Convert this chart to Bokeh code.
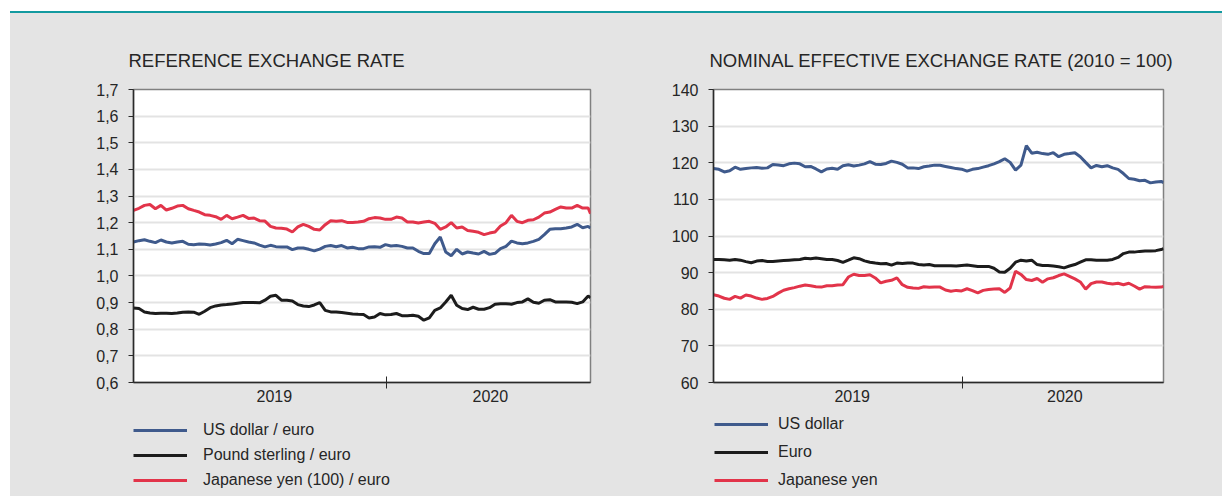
import pandas as pd
from bokeh.plotting import figure
from bokeh.models import (Range1d, FixedTicker, DatetimeTickFormatter, CustomJSTickFormatter,
                          Legend, LegendItem, Div)
from bokeh.layouts import row, column
from bokeh.embed import file_html
from bokeh.resources import INLINE

# ---------------- data ----------------
start_date = "2019-02-12"
end_date = "2020-09-18"
dates = list(pd.date_range(start_date, periods=84, freq="7D")) + [pd.Timestamp(end_date)]

# Reference exchange rates
usd_euro = [1.1275, 1.1325, 1.136, 1.13, 1.125, 1.135, 1.1275, 1.124, 1.1275, 1.13,
            1.119, 1.1175, 1.12, 1.119, 1.116, 1.12, 1.125, 1.134, 1.121, 1.1375,
            1.1325, 1.1275, 1.124, 1.116, 1.109, 1.115, 1.11, 1.109, 1.109, 1.099,
            1.105, 1.105, 1.10, 1.094, 1.101, 1.111, 1.114, 1.11, 1.114, 1.105,
            1.1075, 1.1025, 1.1025, 1.109, 1.11, 1.1075, 1.1175, 1.1125, 1.114, 1.111,
            1.105, 1.105, 1.0925, 1.084, 1.084, 1.121, 1.146, 1.09, 1.076, 1.10,
            1.0825, 1.09, 1.086, 1.0825, 1.0925, 1.081, 1.085, 1.1025, 1.111, 1.131,
            1.124, 1.121, 1.124, 1.13, 1.1375, 1.155, 1.175, 1.1775, 1.1775, 1.18,
            1.184, 1.194, 1.181, 1.186, 1.18]
gbp_euro = [0.88, 0.8775, 0.865, 0.861, 0.859, 0.86, 0.86, 0.859, 0.861, 0.864,
            0.865, 0.864, 0.856, 0.8675, 0.881, 0.8875, 0.891, 0.8925, 0.895, 0.8975,
            0.90, 0.90, 0.90, 0.899, 0.909, 0.924, 0.9275, 0.909, 0.909, 0.906,
            0.8925, 0.8875, 0.885, 0.891, 0.90, 0.871, 0.865, 0.865, 0.8625, 0.86,
            0.8575, 0.856, 0.855, 0.8425, 0.846, 0.859, 0.854, 0.855, 0.859, 0.851,
            0.851, 0.8525, 0.849, 0.834, 0.8425, 0.871, 0.88, 0.9025, 0.9275, 0.89,
            0.8775, 0.874, 0.8825, 0.875, 0.875, 0.881, 0.894, 0.896, 0.896, 0.894,
            0.90, 0.9025, 0.914, 0.901, 0.8975, 0.909, 0.911, 0.9025, 0.9025, 0.9025,
            0.901, 0.896, 0.9025, 0.925, 0.9175]
jpy100_euro = [1.246, 1.254, 1.265, 1.268, 1.2525, 1.265, 1.2475, 1.254, 1.2625, 1.265,
               1.2525, 1.246, 1.24, 1.23, 1.2275, 1.2225, 1.2125, 1.2275, 1.215, 1.221,
               1.2275, 1.216, 1.2175, 1.2075, 1.206, 1.186, 1.18, 1.179, 1.176, 1.165,
               1.184, 1.194, 1.186, 1.175, 1.1725, 1.1925, 1.2075, 1.205, 1.2075, 1.201,
               1.201, 1.2025, 1.205, 1.215, 1.219, 1.2175, 1.2125, 1.2125, 1.221, 1.2175,
               1.2025, 1.2025, 1.199, 1.2025, 1.205, 1.1975, 1.175, 1.184, 1.20, 1.18,
               1.184, 1.171, 1.1675, 1.164, 1.155, 1.161, 1.165, 1.1875, 1.20, 1.2275,
               1.205, 1.20, 1.209, 1.211, 1.221, 1.236, 1.24, 1.25, 1.259, 1.255,
               1.255, 1.265, 1.255, 1.255, 1.234]

# Nominal effective exchange rates (2010 = 100)
neer_usd = [118.4, 118.2, 117.5, 117.8, 118.8, 118.2, 118.4, 118.6, 118.7, 118.5,
            118.6, 119.5, 119.4, 119.2, 119.7, 119.9, 119.7, 118.9, 119.0, 118.3,
            117.5, 118.3, 118.5, 118.25, 119.2, 119.45, 119.1, 119.35, 119.7, 120.3,
            119.6, 119.5, 119.8, 120.45, 120.1, 119.6, 118.6, 118.6, 118.4, 118.9,
            119.1, 119.35, 119.3, 119.0, 118.7, 118.4, 118.25, 117.7, 118.2, 118.4,
            118.8, 119.2, 119.7, 120.3, 121.1, 120.1, 118.0, 119.35, 124.7, 122.6,
            122.85, 122.5, 122.3, 122.75, 121.65, 122.3, 122.5, 122.75, 121.65, 120.1,
            118.6, 119.25, 118.9, 119.2, 118.6, 118.2, 117.05, 115.7, 115.5, 115.1,
            115.2, 114.5, 114.75, 114.9, 114.6]
neer_eur = [93.6, 93.6, 93.5, 93.4, 93.6, 93.4, 93.0, 92.7, 93.15, 93.3,
            93.05, 93.05, 93.2, 93.3, 93.4, 93.5, 93.6, 93.9, 93.8, 94.0,
            93.8, 93.6, 93.6, 93.3, 92.8, 93.4, 94.05, 93.8, 93.2, 92.85,
            92.6, 92.4, 92.5, 92.05, 92.6, 92.5, 92.6, 92.6, 92.2, 92.05,
            92.2, 91.9, 91.9, 91.9, 91.9, 91.8, 91.95, 92.05, 91.9, 91.7,
            91.7, 91.7, 91.2, 90.2, 90.1, 91.2, 92.85, 93.4, 93.15, 93.4,
            92.2, 91.95, 91.95, 91.8, 91.6, 91.3, 91.8, 92.2, 92.85, 93.5,
            93.5, 93.4, 93.4, 93.4, 93.6, 94.15, 95.2, 95.6, 95.6, 95.8,
            95.9, 95.9, 96.0, 96.3, 96.55]
neer_jpy = [83.95, 83.6, 83.0, 82.7, 83.5, 83.05, 83.9, 83.6, 83.05, 82.7,
            82.95, 83.5, 84.4, 85.2, 85.6, 85.9, 86.3, 86.6, 86.4, 86.15,
            86.05, 86.4, 86.4, 86.6, 86.7, 88.8, 89.55, 89.2, 89.2, 89.4,
            88.55, 87.2, 87.65, 87.9, 88.55, 86.7, 86.0, 85.8, 85.7, 86.15,
            86.0, 86.05, 86.05, 85.25, 84.9, 85.15, 85.0, 85.6, 85.1, 84.5,
            85.15, 85.4, 85.5, 85.6, 84.6, 85.8, 90.4, 89.5, 88.1, 87.85,
            88.4, 87.35, 88.3, 88.6, 89.2, 89.65, 89.0, 88.3, 87.45, 85.5,
            87.0, 87.45, 87.45, 87.1, 86.9, 87.1, 86.7, 87.1, 86.35, 85.5,
            86.15, 86.05, 86.0, 86.05, 86.25]

left_title = "REFERENCE EXCHANGE RATE"
right_title = "NOMINAL EFFECTIVE EXCHANGE RATE (2010 = 100)"
left_labels = ["US dollar / euro", "Pound sterling / euro", "Japanese yen (100) / euro"]
right_labels = ["US dollar", "Euro", "Japanese yen"]
left_yticks = [0.6, 0.7, 0.8, 0.9, 1.0, 1.1, 1.2, 1.3, 1.4, 1.5, 1.6, 1.7]
right_yticks = [60, 70, 80, 90, 100, 110, 120, 130, 140]
year_label_dates = ["2019-08-11", "2020-05-13"]
year_boundary = "2020-01-01"

# ---------------- style ----------------
FONT = "Liberation Sans"
TEXT = "#262626"
GRAY_BG = "#e4e4e4"
TEAL = "#139aa0"
BLUE = "#3f5a8c"
BLACK = "#1c1c1c"
RED = "#e2344a"
COLORS = [BLUE, BLACK, RED]


def ms(d):
    return pd.Timestamp(d).value / 1e6


def make_chart(title, series, yrange, yticks, fmt_code, width, mb_left, mb_right,
               title_offset):
    p = figure(width=width, height=400, x_axis_type="datetime",
               x_range=Range1d(pd.Timestamp(start_date), pd.Timestamp(end_date)),
               y_range=Range1d(*yrange), output_backend="svg", toolbar_location=None,
               min_border_left=mb_left, min_border_right=mb_right,
               min_border_top=76, min_border_bottom=31,
               background_fill_color="white", border_fill_color=GRAY_BG)
    p.outline_line_color = "#808080"
    p.outline_line_width = 1.5

    p.title.text = title
    p.title.text_font = FONT
    p.title.text_font_size = "18.5px"
    p.title.text_font_style = "normal"
    p.title.text_color = TEXT
    p.title.align = "left"
    p.title.offset = title_offset
    p.title.standoff = 37

    # y axis
    p.yaxis.ticker = FixedTicker(ticks=yticks)
    p.yaxis.formatter = CustomJSTickFormatter(code=fmt_code)
    p.yaxis.major_tick_in = 0
    p.yaxis.major_tick_out = 5
    p.yaxis.minor_tick_line_color = None
    p.yaxis.axis_line_color = "#2a2a2a"
    p.yaxis.axis_line_width = 1.5
    p.yaxis.major_tick_line_color = "#2a2a2a"
    p.yaxis.major_label_text_font = FONT
    p.yaxis.major_label_text_font_size = "16px"
    p.yaxis.major_label_text_color = TEXT
    p.yaxis.major_label_standoff = 10

    p.ygrid.ticker = FixedTicker(ticks=yticks)
    p.ygrid.grid_line_color = "#e3e3e3"
    p.ygrid.grid_line_width = 2
    p.xgrid.visible = False

    # x axis: year labels, one tick at the year boundary
    p.xaxis.ticker = FixedTicker(ticks=[ms(d) for d in year_label_dates],
                                 minor_ticks=[ms(year_boundary)])
    f = "%Y"
    p.xaxis.formatter = DatetimeTickFormatter(
        microseconds=f, milliseconds=f, seconds=f, minsec=f, minutes=f,
        hourmin=f, hours=f, days=f, months=f, years=f)
    p.xaxis.major_tick_line_color = None
    p.xaxis.major_tick_in = 0
    p.xaxis.major_tick_out = 0
    p.xaxis.minor_tick_in = 6
    p.xaxis.minor_tick_out = 6
    p.xaxis.minor_tick_line_color = "#2a2a2a"
    p.xaxis.minor_tick_line_width = 1
    p.xaxis.axis_line_color = "#2a2a2a"
    p.xaxis.axis_line_width = 1.5
    p.xaxis.major_label_text_font = FONT
    p.xaxis.major_label_text_font_size = "16px"
    p.xaxis.major_label_text_color = TEXT
    p.xaxis.major_label_standoff = 1

    for vals, col in zip(series, COLORS):
        p.line(dates, vals, line_color=col, line_width=3)
    return p


def make_legend(labels, series, width, loc, label_standoff, spacing):
    # key panel below a chart; its lines lie outside the (0, 1) ranges and only
    # serve as legend swatches
    lf = figure(width=width, height=83, x_range=Range1d(0, 1), y_range=Range1d(0, 1),
                x_axis_type=None, y_axis_type=None, output_backend="svg",
                toolbar_location=None, min_border=0,
                background_fill_color=GRAY_BG, border_fill_color=GRAY_BG)
    lf.outline_line_color = None
    lf.grid.visible = False
    items = []
    for lab, vals, col in zip(labels, series, COLORS):
        r = lf.line(dates, vals, line_color=col, line_width=3)
        items.append(LegendItem(label=lab, renderers=[r]))
    legend = Legend(items=items, location=loc, glyph_width=54, glyph_height=20,
                    label_height=20, label_standoff=label_standoff, spacing=spacing,
                    padding=0, margin=0, border_line_color=None,
                    background_fill_alpha=0, label_text_font=FONT,
                    label_text_font_size="16px", label_text_color=TEXT)
    lf.add_layout(legend)
    return lf


fmt_left = "return tick.toFixed(1).replace('.', ',');"
fmt_right = "return tick.toFixed(0);"

left_series = [usd_euro, gbp_euro, jpy100_euro]
right_series = [neer_usd, neer_eur, neer_jpy]

p1 = make_chart(left_title, left_series, (0.6, 1.7), left_yticks,
                fmt_left, 610, 123, 30, -5)
p2 = make_chart(right_title, right_series, (60, 140), right_yticks,
                fmt_right, 602, 93, 59, -4)
l1 = make_legend(left_labels, left_series, 610, (0, 6), 16, 5)
l2 = make_legend(right_labels, right_series, 602, (1, 6), 10, 8)

top_line = Div(text="", width=1212, height=13, margin=0,
               styles={"background": "linear-gradient(#ffffff 0px, #ffffff 11px, "
                                     + TEAL + " 11px, " + TEAL + " 13px)"})

charts = row(column(p1, l1, spacing=0, margin=0), column(p2, l2, spacing=0, margin=0),
             spacing=0, margin=0, styles={"background-color": GRAY_BG})
layout = column(top_line, charts, spacing=0, margin=(0, 0, 0, 10))

open("out.html", "w").write(file_html(layout, INLINE))
